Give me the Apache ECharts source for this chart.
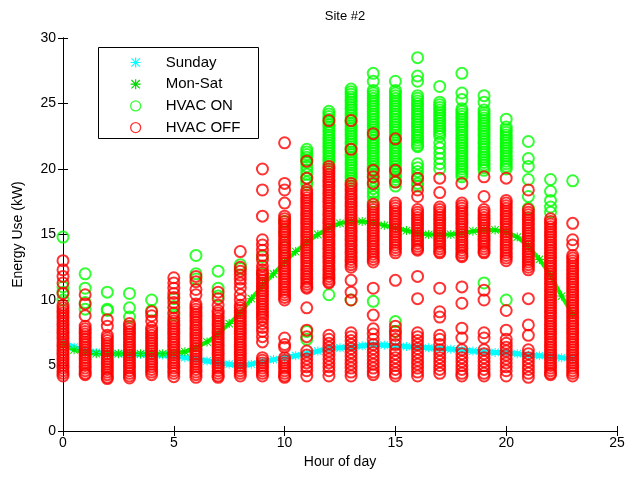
<!DOCTYPE html>
<html>
<head>
<meta charset="utf-8">
<script src="https://cdn.jsdelivr.net/npm/echarts@6/dist/echarts.min.js"></script>
<style>html,body{margin:0;padding:0;background:#fff}#c{width:628px;height:477px}</style>
</head>
<body>
<div id="c"></div>
<script>
const hours = [0,1,2,3,4,5,6,7,8,9,10,11,12,13,14,15,16,17,18,19,20,21,22,23];
const xTicks = [0,5,10,15,20,25];
const yTicks = [0,5,10,15,20,25,30];

const curveX = [0,0.5,1,1.5,2,2.5,3,3.5,4,4.5,5,5.5,6,6.5,7,7.5,8,8.5,9,9.5,10,10.5,11,11.5,12,12.5,13,13.5,14,14.5,15,15.5,16,16.5,17,17.5,18,18.5,19,19.5,20,20.5,21,21.5,22,22.5,23];
const sundayY = [6.8,6.4,6.1,6.0,5.9,5.9,5.85,5.85,5.8,5.8,5.75,5.6,5.5,5.35,5.2,5.1,5.0,5.1,5.3,5.45,5.6,5.75,5.9,6.1,6.3,6.35,6.4,6.5,6.6,6.55,6.5,6.45,6.4,6.35,6.3,6.25,6.2,6.1,6.05,6.0,6.0,5.9,5.8,5.75,5.7,5.6,5.55];
const monSatY = [6.6,6.2,6.0,5.9,5.9,5.9,5.9,5.9,5.9,5.9,5.95,6.05,6.35,6.8,7.4,8.2,9.0,10.1,11.1,12.0,12.9,13.7,14.4,15.0,15.5,15.85,16.0,16.0,15.9,15.7,15.5,15.3,15.1,15.0,15.0,15.0,15.1,15.25,15.35,15.35,15.2,14.8,14.1,13.1,11.9,10.3,8.9];

const hvacOnByHour = [
  [14.8,11.0,10.6,10.0],
  [12.0,10.9,9.8,9.3],
  [10.6,9.3,9.2],
  [10.5,9.4,8.7],
  [10.0,9.2],
  [10.1,9.5,8.85],
  [13.4,12.0,11.6],
  [12.2,10.9,10.3],
  [12.7,12.4],
  [13.3,12.0],
  [16.0,15.2,14.0],
  [21.5,21.3,21.1,20.9,20.7,20.5,20.2,19.9,19.6,19.3,19.0,18.8,7.6,7.0],
  [24.4,24.2,24.0,23.8,23.6,23.4,23.2,23.0,22.8,22.6,22.4,22.2,22.0,21.8,21.6,21.4,21.2,21.0,20.8,20.6,20.4,10.4],
  [26.1,25.9,25.7,25.5,25.3,25.1,24.9,24.7,24.5,24.3,24.1,23.9,23.7,23.5,23.3,23.1,22.9,22.7,22.5,22.3,22.1,21.9,21.7,21.5,21.3,21.1,20.9,20.7,20.5,20.3,20.1,19.9,19.7,19.5,19.3,19.1,10.0],
  [27.3,26.7,26.0,25.8,25.6,25.4,25.2,25.0,24.8,24.6,24.4,24.2,24.0,23.8,23.6,23.4,23.2,23.0,22.8,22.6,22.4,22.2,22.0,21.8,21.6,21.4,21.2,21.0,20.8,20.6,20.4,20.2,20.0,19.8,19.6,19.4,19.1,18.8,18.5,18.2,17.9,17.5,9.9],
  [26.7,26.0,25.8,25.6,25.4,25.2,25.0,24.8,24.6,24.4,24.2,24.0,23.8,23.6,23.4,23.2,23.0,22.8,22.6,22.4,22.2,22.0,21.8,21.6,21.4,21.2,21.0,20.8,20.6,20.4,20.2,20.0,19.8,19.6,19.4,19.2,19.0,18.7,8.35,7.6],
  [28.5,27.1,26.7,25.6,25.4,25.2,25.0,24.8,24.6,24.4,24.2,24.0,23.8,23.6,23.4,23.2,23.0,22.8,22.6,22.4,22.2,22.0,21.8,21.7,20.4,20.1,19.8,19.5,19.2,18.9,18.7],
  [26.3,25.1,24.9,24.7,24.5,24.3,24.1,23.9,23.7,23.5,23.3,23.1,22.9,22.7,22.5,22.0,21.6,21.2,20.8,20.4,20.0],
  [27.3,25.8,25.3,24.6,24.4,24.2,24.0,23.8,23.6,23.4,23.2,23.0,22.8,22.6,22.4,22.2,22.0,21.8,21.6,21.4,21.2,21.0,20.8,20.6,20.4,20.2,20.0,19.8,19.6,19.4],
  [25.6,25.1,24.5,24.3,24.1,23.9,23.7,23.5,23.3,23.1,22.9,22.7,22.5,22.3,22.1,21.9,21.7,21.5,21.3,21.1,20.9,20.7,20.5,20.3,20.1,19.9,11.3],
  [23.8,23.2,23.0,22.8,22.6,22.4,22.2,22.0,21.8,21.6,21.4,21.2,21.0,20.8,20.6,20.4,20.2,20.0,10.0],
  [22.1,20.8,20.2,19.2,17.9,17.0],
  [19.2,18.3,17.6,17.1,16.7],
  [19.1]
];

const hvacOffByHour = [
  [13.0,12.3,11.8,11.3,10.5,9.6,9.4,9.2,9.0,8.8,8.6,8.4,8.2,8.0,7.8,7.6,7.4,7.2,7.0,6.8,6.6,6.4,6.2,6.0,5.8,5.6,5.4,5.2,5.0,4.8,4.6,4.4,4.2],
  [10.4,9.7,8.8,8.0,7.8,7.6,7.4,7.2,7.0,6.8,6.6,6.4,6.2,6.0,5.8,5.6,5.4,5.2,5.0,4.8,4.6,4.4,4.3],
  [8.5,8.0,7.3,7.1,6.9,6.7,6.5,6.3,6.1,5.9,5.7,5.5,5.3,5.1,4.9,4.7,4.5,4.3,4.1,4.0],
  [8.2,8.0,7.8,7.6,7.4,7.2,7.0,6.8,6.6,6.4,6.2,6.0,5.8,5.6,5.4,5.2,5.0,4.8,4.6,4.4,4.2,4.05],
  [9.1,8.8,8.4,7.9,7.7,7.5,7.3,7.1,6.9,6.7,6.5,6.3,6.1,5.9,5.7,5.5,5.3,5.1,4.9,4.7,4.5,4.3],
  [11.7,11.3,10.9,10.5,10.2,9.8,9.4,9.0,8.6,8.4,8.2,8.0,7.8,7.6,7.4,7.2,7.0,6.8,6.6,6.4,6.2,6.0,5.8,5.6,5.4,5.2,5.0,4.8,4.6,4.4,4.15],
  [11.8,11.4,10.8,10.4,9.7,9.5,9.3,9.1,8.9,8.7,8.5,8.3,8.1,7.9,7.7,7.5,7.3,7.1,6.9,6.7,6.5,6.3,6.1,5.9,5.7,5.5,5.3,5.1,4.9,4.7,4.5,4.3,4.1],
  [10.6,10.1,9.6,9.2,9.0,8.8,8.6,8.4,8.2,8.0,7.8,7.6,7.4,7.2,7.0,6.8,6.6,6.4,6.2,6.0,5.8,5.6,5.4,5.2,5.0,4.8,4.6,4.4,4.2,4.1],
  [13.7,12.5,12.2,11.9,11.6,11.3,10.9,10.4,10.0,9.6,9.4,9.2,9.0,8.8,8.6,8.4,8.2,8.0,7.8,7.6,7.4,7.2,7.0,6.8,6.6,6.4,6.2,6.0,5.8,5.6,5.4,5.2,5.0,4.8,4.6,4.4,4.2],
  [20.0,18.4,16.4,14.6,14.2,13.8,13.4,13.05,12.6,12.3,12.1,11.9,11.7,11.5,11.3,11.1,10.9,10.7,10.5,10.3,10.1,9.9,9.7,9.5,9.3,9.1,8.9,8.7,8.5,8.2,7.9,7.6,7.2,6.8,5.6,5.4,5.2,5.0,4.8,4.6,4.4,4.2],
  [22.0,18.9,18.4,17.4,16.4,16.2,16.0,15.8,15.6,15.4,15.2,15.0,14.8,14.6,14.4,14.2,14.0,13.8,13.6,13.4,13.2,13.0,12.8,12.6,12.4,12.2,12.0,11.8,11.6,11.4,11.2,11.0,10.8,10.6,10.4,10.2,10.0,7.1,6.6,6.4,5.6,5.4,5.2,5.0,4.8,4.6,4.4,4.2,4.1],
  [20.6,19.3,18.4,18.2,18.0,17.8,17.6,17.4,17.2,17.0,16.8,16.6,16.4,16.2,16.0,15.8,15.6,15.4,15.2,15.0,14.8,14.6,14.4,14.2,14.0,13.8,13.6,13.4,13.2,13.0,12.8,12.6,12.4,12.2,12.0,11.8,11.6,11.4,11.2,11.0,10.9,9.4,7.7,7.2,6.1,5.8,5.5,5.2,4.9,4.6,4.2],
  [23.7,20.2,20.0,19.8,19.6,19.4,19.2,19.0,18.8,18.6,18.4,18.2,18.0,17.8,17.6,17.4,17.2,17.0,16.8,16.6,16.4,16.2,16.0,15.8,15.6,15.4,15.2,15.0,14.8,14.6,14.4,14.2,14.0,13.8,13.6,13.4,13.2,13.0,12.8,12.6,12.4,12.2,12.0,11.8,11.6,11.4,11.3,7.3,7.0,6.7,6.4,6.1,5.8,5.5,5.2,4.9,4.6,4.2],
  [23.7,21.5,18.9,18.7,18.5,18.3,18.1,17.9,17.7,17.5,17.3,17.1,16.9,16.7,16.5,16.3,16.1,15.9,15.7,15.5,15.3,15.1,14.9,14.7,14.5,14.3,14.1,13.9,13.7,13.5,13.3,13.1,12.9,12.7,12.5,11.5,10.6,10.0,7.5,7.2,6.9,6.6,6.3,6.0,5.7,5.4,5.1,4.8,4.5,4.2],
  [22.7,19.9,19.4,18.9,17.3,17.1,16.9,16.7,16.5,16.3,16.1,15.9,15.7,15.5,15.3,15.1,14.9,14.7,14.5,14.3,14.1,13.9,13.7,13.5,13.3,13.1,12.9,10.9,8.85,7.8,7.4,7.0,6.6,6.3,6.0,5.7,5.4,5.1,4.8,4.5,4.3],
  [22.3,19.9,19.0,17.4,17.2,17.0,16.8,16.6,16.4,16.2,16.0,15.8,15.6,15.4,15.2,15.0,14.8,14.6,14.4,14.2,14.0,13.8,13.6,11.5,8.0,7.6,7.3,7.0,6.6,6.2,5.9,5.6,5.3,5.0,4.7,4.4,4.2],
  [19.3,18.4,17.9,16.9,16.7,16.5,16.3,16.1,15.9,15.7,15.5,15.3,15.1,14.9,14.7,14.5,14.3,14.1,13.9,13.8,11.8,10.1,7.5,7.2,6.9,6.6,6.3,6.0,5.7,5.4,5.1,4.8,4.5,4.2],
  [19.3,18.2,17.1,16.9,16.7,16.5,16.3,16.1,15.9,15.7,15.5,15.3,15.1,14.9,14.7,14.5,14.3,14.1,13.9,13.7,13.6,10.9,9.1,8.7,7.3,7.0,6.6,6.2,5.9,5.6,5.3,5.0,4.7,4.4],
  [18.9,17.4,17.2,17.0,16.8,16.6,16.4,16.2,16.0,15.8,15.6,15.4,15.2,15.0,14.8,14.6,14.4,14.2,14.0,13.8,13.6,13.4,13.3,11.0,9.75,7.85,7.1,6.2,5.9,5.6,5.3,5.0,4.7,4.4,4.2],
  [19.4,17.9,16.9,16.7,16.5,16.3,16.1,15.9,15.7,15.5,15.3,15.1,14.9,14.7,14.5,14.3,14.1,13.9,13.7,13.6,10.75,10.0,7.5,7.1,6.2,5.9,5.6,5.3,5.0,4.7,4.4,4.2],
  [19.3,17.6,17.4,17.2,17.0,16.8,16.6,16.4,16.2,16.0,15.8,15.6,15.4,15.2,15.0,14.8,14.6,14.4,14.2,14.0,13.8,13.6,13.4,13.2,13.0,9.2,7.7,7.0,6.7,6.4,6.1,5.8,5.5,5.2,4.9,4.6,4.2],
  [18.4,16.9,16.7,16.5,16.3,16.1,15.9,15.7,15.5,15.3,15.1,14.9,14.7,14.5,14.3,14.1,13.9,13.7,13.5,13.3,13.1,12.9,12.7,12.5,12.3,10.1,8.1,7.3,6.2,5.9,5.6,5.3,5.0,4.7,4.4,4.1],
  [16.2,16.0,15.8,15.6,15.4,15.2,15.0,14.8,14.6,14.4,14.2,14.0,13.8,13.6,13.4,13.2,13.0,12.8,12.6,12.4,12.2,12.0,11.8,11.6,11.4,11.2,11.0,10.8,10.6,10.4,10.2,10.0,9.8,9.6,9.4,9.2,9.0,8.8,8.6,8.4,8.2,8.0,7.8,7.6,7.4,7.2,7.0,6.8,6.6,6.4,6.2,6.0,5.8,5.6,5.4,5.2,5.0,4.8,4.6,4.4,4.3],
  [15.85,14.6,14.2,13.4,13.2,13.0,12.8,12.6,12.4,12.2,12.0,11.8,11.6,11.4,11.2,11.0,10.8,10.6,10.4,10.2,10.0,9.8,9.6,9.4,9.2,9.0,8.8,8.6,8.4,8.2,8.0,7.8,7.6,7.4,7.2,7.0,6.8,6.6,6.4,6.2,6.0,5.8,5.6,5.4,5.2,5.0,4.8,4.6,4.4,4.2]
];

const FONT = '"Liberation Sans", Arial, sans-serif';
const STAR = 'path://M4.4,0H5.6V10H4.4Z M0,4.4H10V5.6H0Z M1.2,0.4L9.6,8.8L8.8,9.6L0.4,1.2Z M8.8,0.4L9.6,1.2L1.2,9.6L0.4,8.8Z';

function pairs(xs, ys) { return xs.map((x, i) => [x, ys[i]]); }
function byHour(lists) {
  const out = [];
  lists.forEach((vals, i) => vals.forEach(v => out.push([hours[i], v])));
  return out;
}

const chart = echarts.init(document.getElementById('c'), null, {renderer: 'canvas'});
const axisCommon = {
  axisLine: {show: true, lineStyle: {color: '#000', width: 1}},
  axisTick: {show: true, inside: true, length: 5, lineStyle: {color: '#000'}},
  splitLine: {show: false}
};
chart.setOption({
  animation: false,
  backgroundColor: '#fff',
  title: {
    text: 'Site #2', left: 340, top: 5, textAlign: 'center',
    textStyle: {fontFamily: FONT, fontSize: 13, fontWeight: 'normal', color: '#000'}
  },
  grid: {left: 63, right: 11, top: 38, bottom: 46},
  graphic: [{
    type: 'rect', left: 98, top: 47, z: 100,
    shape: {width: 160, height: 91},
    style: {fill: '#fff', stroke: '#000', lineWidth: 1}
  }],
  legend: {
    left: 130, top: 55, orient: 'vertical', itemGap: 6.7, padding: 0,
    itemWidth: 10, itemHeight: 10, z: 101,
    textStyle: {fontFamily: FONT, fontSize: 15, color: '#000', padding: [0, 0, 0, 20]},
    data: [
      {name: 'Sunday', icon: STAR, itemStyle: {color: '#00ffff'}},
      {name: 'Mon-Sat', icon: STAR, itemStyle: {color: '#00d800'}},
      {name: 'HVAC ON', icon: 'circle', itemStyle: {color: 'rgba(0,0,0,0)', borderColor: '#00ff00', borderWidth: 1.3}},
      {name: 'HVAC OFF', icon: 'circle', itemStyle: {color: 'rgba(0,0,0,0)', borderColor: '#ff0000', borderWidth: 1.3}}
    ]
  },
  xAxis: [
    Object.assign({
      type: 'value', position: 'bottom', min: 0, max: 25, interval: 5,
      name: 'Hour of day', nameLocation: 'middle', nameGap: 24,
      nameTextStyle: {fontFamily: FONT, fontSize: 14, color: '#000'},
      axisLabel: {fontFamily: FONT, fontSize: 14, color: '#000', margin: 5,
        formatter: v => xTicks.includes(v) ? String(v) : ''}
    }, axisCommon),
    Object.assign({
      type: 'value', position: 'top', min: 0, max: 25, interval: 5,
      axisLabel: {show: false}
    }, axisCommon)
  ],
  yAxis: [
    Object.assign({
      type: 'value', position: 'left', min: 0, max: 30, interval: 5,
      name: 'Energy Use (kW)', nameLocation: 'middle', nameGap: 38,
      nameTextStyle: {fontFamily: FONT, fontSize: 14, color: '#000'},
      axisLabel: {fontFamily: FONT, fontSize: 14, color: '#000', margin: 7,
        formatter: v => yTicks.includes(v) ? String(v) : ''}
    }, axisCommon),
    Object.assign({
      type: 'value', position: 'right', min: 0, max: 30, interval: 5,
      axisLabel: {show: false}
    }, axisCommon)
  ],
  series: [
    {
      name: 'Sunday', type: 'line', xAxisIndex: 0, yAxisIndex: 0,
      data: pairs(curveX, sundayY), symbol: STAR, symbolSize: 9, showAllSymbol: true,
      itemStyle: {color: '#00ffff'}, lineStyle: {color: '#00ffff', width: 5}, z: 2
    },
    {
      name: 'Mon-Sat', type: 'line', xAxisIndex: 0, yAxisIndex: 0,
      data: pairs(curveX, monSatY), symbol: STAR, symbolSize: 9, showAllSymbol: true,
      itemStyle: {color: '#00e600'}, lineStyle: {color: '#00ff00', width: 4}, z: 2
    },
    {
      name: 'HVAC ON', type: 'scatter', xAxisIndex: 0, yAxisIndex: 0,
      data: byHour(hvacOnByHour), symbol: 'circle', symbolSize: 11,
      itemStyle: {color: 'rgba(0,0,0,0)', borderColor: '#00ff00', borderWidth: 2}, z: 3
    },
    {
      name: 'HVAC OFF', type: 'scatter', xAxisIndex: 0, yAxisIndex: 0,
      data: byHour(hvacOffByHour), symbol: 'circle', symbolSize: 11,
      itemStyle: {color: 'rgba(0,0,0,0)', borderColor: '#ff0000', borderWidth: 2}, z: 4
    }
  ]
});
</script>
</body>
</html>
